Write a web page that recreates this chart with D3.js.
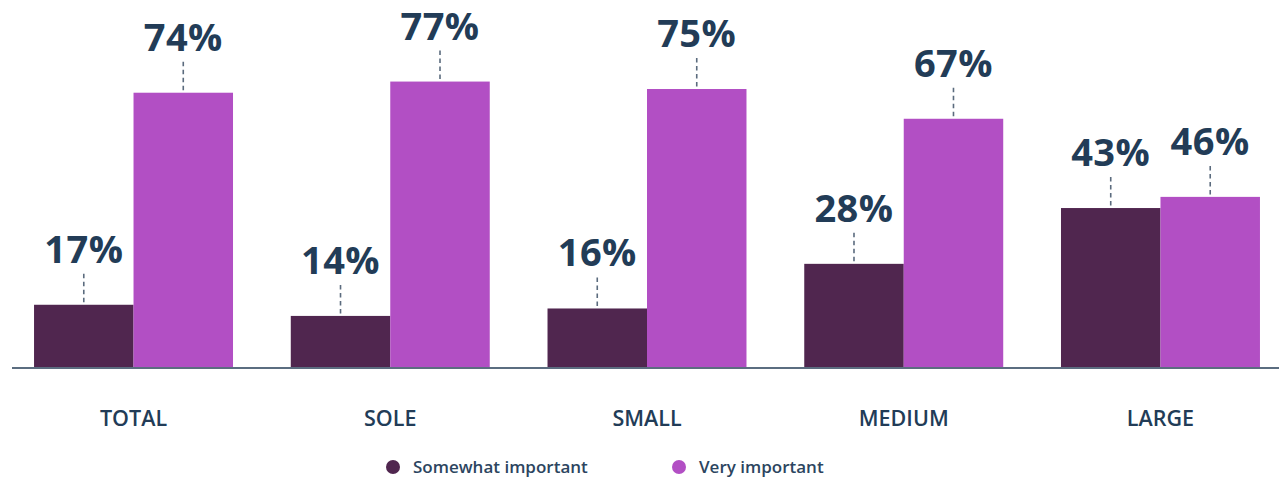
<!DOCTYPE html>
<html>
<head>
<meta charset="utf-8">
<script src="https://cdn.jsdelivr.net/npm/d3@7"></script>
<style>
  html, body { margin: 0; padding: 0; background: #ffffff; }
  svg { display: block; }
</style>
</head>
<body>
<div id="chart"></div>
<script>
// Importance by business size
const categories = ["TOTAL", "SOLE", "SMALL", "MEDIUM", "LARGE"];
const seriesNames = ["Somewhat important", "Very important"];
const somewhatImportant = [17, 14, 16, 28, 43];
const veryImportant = [74, 77, 75, 67, 46];
const seriesColors = ["#50264f", "#b24fc4"];

const width = 1279, height = 479;
const baseline = 368;

const svg = d3.select("#chart").append("svg")
  .attr("width", width)
  .attr("height", height);

const x = d3.scaleBand()
  .domain(categories)
  .range([13.5, 1280.5])
  .paddingInner(0.225)
  .paddingOuter(0.08);

const xSeries = d3.scaleBand()
  .domain(seriesNames)
  .range([0, x.bandwidth()]);

const y = d3.scaleLinear()
  .domain([0, 100])
  .range([baseline, -4]);

const color = d3.scaleOrdinal().domain(seriesNames).range(seriesColors);

const rows = categories.map((c, i) => ({
  category: c,
  values: [
    { key: seriesNames[0], value: somewhatImportant[i] },
    { key: seriesNames[1], value: veryImportant[i] }
  ]
}));

const groups = svg.selectAll("g.group")
  .data(rows)
  .join("g")
  .attr("class", "group")
  .attr("transform", d => `translate(${x(d.category)},0)`);

groups.selectAll("rect")
  .data(d => d.values)
  .join("rect")
  .attr("x", d => xSeries(d.key))
  .attr("y", d => y(d.value))
  .attr("width", xSeries.bandwidth())
  .attr("height", d => baseline - y(d.value))
  .attr("fill", d => color(d.key));

// dashed leader lines
groups.selectAll("line.leader")
  .data(d => d.values)
  .join("line")
  .attr("class", "leader")
  .attr("x1", d => xSeries(d.key) + xSeries.bandwidth() / 2)
  .attr("x2", d => xSeries(d.key) + xSeries.bandwidth() / 2)
  .attr("y1", d => y(d.value) - 31)
  .attr("y2", d => y(d.value))
  .attr("stroke", "#5b6b7e")
  .attr("stroke-width", 1.6)
  .attr("stroke-dasharray", "4.5,3.5");

// value labels
groups.selectAll("text.value")
  .data(d => d.values)
  .join("text")
  .attr("class", "value")
  .attr("x", d => xSeries(d.key) + xSeries.bandwidth() / 2)
  .attr("y", d => y(d.value) - 42)
  .attr("text-anchor", "middle")
  .attr("font-family", "'Open Sans', sans-serif")
  .attr("font-weight", 700)
  .attr("font-size", 38)
  .attr("letter-spacing", 0.5)
  .attr("fill", "#223c57")
  .text(d => d.value + "%");

// baseline axis
const xAxis = d3.axisBottom(x).tickSize(0).tickPadding(0);
const axisG = svg.append("g")
  .attr("transform", `translate(0,${baseline})`)
  .call(xAxis);
axisG.select(".domain")
  .attr("d", `M12,0H${width}`)
  .attr("stroke", "#5b6d80")
  .attr("stroke-width", 2);
axisG.selectAll(".tick text")
  .attr("y", 58)
  .attr("dy", 0)
  .attr("font-family", "'Open Sans', sans-serif")
  .attr("font-weight", 600)
  .attr("font-size", 21.5)
  .attr("fill", "#223c57");

// legend
const legendX = [393, 679];
const legend = svg.selectAll("g.legend")
  .data(seriesNames)
  .join("g")
  .attr("class", "legend")
  .attr("transform", (d, i) => `translate(${legendX[i]},467)`);
legend.append("circle")
  .attr("r", 7)
  .attr("fill", d => color(d));
legend.append("text")
  .attr("x", 20)
  .attr("y", 6)
  .attr("font-family", "'Open Sans', sans-serif")
  .attr("font-weight", 600)
  .attr("font-size", 17)
  .attr("fill", "#2c4560")
  .text(d => d);
</script>
</body>
</html>
